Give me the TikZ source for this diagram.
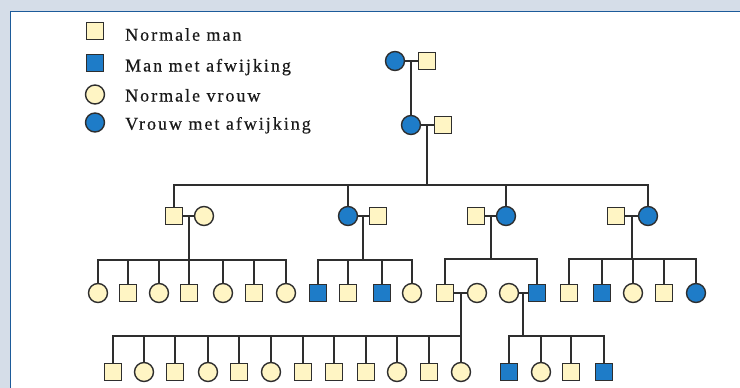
\documentclass[tikz,border=0pt]{standalone}
\usepackage{fontspec}
\setmainfont{Liberation Serif}
\newfontfamily\legendfont[LetterSpace=11,FakeBold=0.4]{Liberation Serif}
\usetikzlibrary{calc}
\definecolor{bgray}{HTML}{D5DDE8}
\definecolor{frameblue}{HTML}{1D5B9A}
\definecolor{affblue}{HTML}{1E7CC8}
\definecolor{normyel}{HTML}{FFF5C4}
\definecolor{linegray}{HTML}{2E2E2E}
\begin{document}
\begin{tikzpicture}[x=1pt,y=-1pt,
  person/.style={draw=linegray, line width=1.4pt, inner sep=0pt, outer sep=0pt},
  nm/.style={person, rectangle, minimum size=17pt, fill=normyel},
  am/.style={person, rectangle, minimum size=17pt, fill=affblue},
  nf/.style={person, circle, minimum size=19pt, fill=normyel},
  af/.style={person, circle, minimum size=19pt, fill=affblue},
  link/.style={draw=linegray, line width=1.6pt},
  lbl/.style={anchor=base west, inner sep=0pt, font=\legendfont\fontsize{18}{20}\selectfont, text=black!90}]
\useasboundingbox (0,0) rectangle (740,388);
% frame
\fill[bgray] (0,0) rectangle (740,388);
\fill[white] (10.3,11.5) rectangle (740,388);
\draw[frameblue, line width=1.5pt] (10.3,388) -- (10.3,11.5) -- (740,11.5);

% legend
\node[nm] (l1) at (95,31) {};
\node[am] (l2) at (95,63) {};
\node[nf] (l3) at (95,94.5) {};
\node[af] (l4) at (95,122.5) {};
\node[lbl] (t1) at (125,40.7) {Normale man};
\node[lbl] (t2) at (125,71.5) {Man met afwijking};
\node[lbl] (t3) at (125,101.5) {Normale vrouw};
\node[lbl] (t4) at (125,129.7) {Vrouw met afwijking};

% generation I
\node[af] (i1) at (395,61) {};
\node[nm] (i2) at (427,61) {};
\draw[link] (i1) -- (i2);
\coordinate (d1) at ($(i1)!0.5!(i2)$);

% generation II
\node[af] (ii1) at (411,125) {};
\node[nm] (ii2) at (443,125) {};
\draw[link] (ii1) -- (ii2);
\draw[link] (d1) -- (ii1);
\coordinate (d2) at ($(ii1)!0.5!(ii2)$);
\coordinate (s2) at (427,185);
\draw[link] (d2) -- (s2);

% generation III
\node[nm] (a1) at (174,216) {};
\node[nf] (a2) at (204,216) {};
\node[af] (b1) at (348,216) {};
\node[nm] (b2) at (378,216) {};
\node[nm] (c1) at (476,216) {};
\node[af] (c2) at (506,216) {};
\node[nm] (e1) at (616,216) {};
\node[af] (e2) at (648,216) {};
\foreach \p/\q in {a1/a2,b1/b2,c1/c2,e1/e2} \draw[link] (\p) -- (\q);
\draw[link] (a1.north) -- (a1.north |- s2) -- (e2.north |- s2) -- (e2.north);
\draw[link] (b1.north) -- (b1.north |- s2);
\draw[link] (c2.north) -- (c2.north |- s2);

% generation IV, family 1
\node[nf] (p1) at (98,293) {};
\node[nm] (p2) at (128,293) {};
\node[nf] (p3) at (159,293) {};
\node[nm] (p4) at (189,293) {};
\node[nf] (p5) at (223,293) {};
\node[nm] (p6) at (254,293) {};
\node[nf] (p7) at (286,293) {};
\coordinate (dA) at ($(a1)!0.5!(a2)$);
\coordinate (sA) at (189,260);
\draw[link] (dA) -- (sA);
\draw[link] (p1.north) -- (p1.north |- sA) -- (p7.north |- sA) -- (p7.north);
\foreach \c in {p2,p3,p4,p5,p6} \draw[link] (\c.north) -- (\c.north |- sA);

% generation IV, family 2
\node[am] (q1) at (318,293) {};
\node[nm] (q2) at (348,293) {};
\node[am] (q3) at (382,293) {};
\node[nf] (q4) at (412,293) {};
\coordinate (dB) at ($(b1)!0.5!(b2)$);
\coordinate (sB) at (363,260);
\draw[link] (dB) -- (sB);
\draw[link] (q1.north) -- (q1.north |- sB) -- (q4.north |- sB) -- (q4.north);
\foreach \c in {q2,q3} \draw[link] (\c.north) -- (\c.north |- sB);

% generation IV, family 3
\node[nm] (r1) at (445,293) {};
\node[nf] (r2) at (477,293) {};
\node[nf] (r3) at (509,293) {};
\node[am] (r4) at (537,293) {};
\draw[link] (r1) -- (r2);
\draw[link] (r3) -- (r4);
\coordinate (dC) at ($(c1)!0.5!(c2)$);
\coordinate (sC) at (491,259);
\draw[link] (dC) -- (sC);
\draw[link] (r1.north) -- (r1.north |- sC) -- (r4.north |- sC) -- (r4.north);

% generation IV, family 4
\node[nm] (u1) at (569,293) {};
\node[am] (u2) at (602,293) {};
\node[nf] (u3) at (633,293) {};
\node[nm] (u4) at (664,293) {};
\node[af] (u5) at (696,293) {};
\coordinate (dE) at ($(e1)!0.5!(e2)$);
\coordinate (sE) at (632,259);
\draw[link] (dE) -- (sE);
\draw[link] (u1.north) -- (u1.north |- sE) -- (u5.north |- sE) -- (u5.north);
\foreach \c in {u2,u3,u4} \draw[link] (\c.north) -- (\c.north |- sE);

% generation V, left family
\node[nm] (v1) at (113,372) {};
\node[nf] (v2) at (144,372) {};
\node[nm] (v3) at (175,372) {};
\node[nf] (v4) at (208,372) {};
\node[nm] (v5) at (239,372) {};
\node[nf] (v6) at (271,372) {};
\node[nm] (v7) at (303,372) {};
\node[nm] (v8) at (334,372) {};
\node[nm] (v9) at (366,372) {};
\node[nf] (v10) at (397,372) {};
\node[nm] (v11) at (429,372) {};
\node[nf] (v12) at (461,372) {};
\coordinate (dF) at ($(r1)!0.5!(r2)$);
\coordinate (sF) at (461,336);
\draw[link] (dF) -- (sF);
\draw[link] (v1.north) -- (v1.north |- sF) -- (v12.north |- sF) -- (v12.north);
\foreach \c in {v2,v3,v4,v5,v6,v7,v8,v9,v10,v11} \draw[link] (\c.north) -- (\c.north |- sF);

% generation V, right family
\node[am] (w1) at (509,372) {};
\node[nf] (w2) at (541,372) {};
\node[nm] (w3) at (571,372) {};
\node[am] (w4) at (604,372) {};
\coordinate (dG) at ($(r3)!0.5!(r4)$);
\coordinate (sG) at (523,336);
\draw[link] (dG) -- (sG);
\draw[link] (w1.north) -- (w1.north |- sG) -- (w4.north |- sG) -- (w4.north);
\foreach \c in {w2,w3} \draw[link] (\c.north) -- (\c.north |- sG);
\end{tikzpicture}
\end{document}
